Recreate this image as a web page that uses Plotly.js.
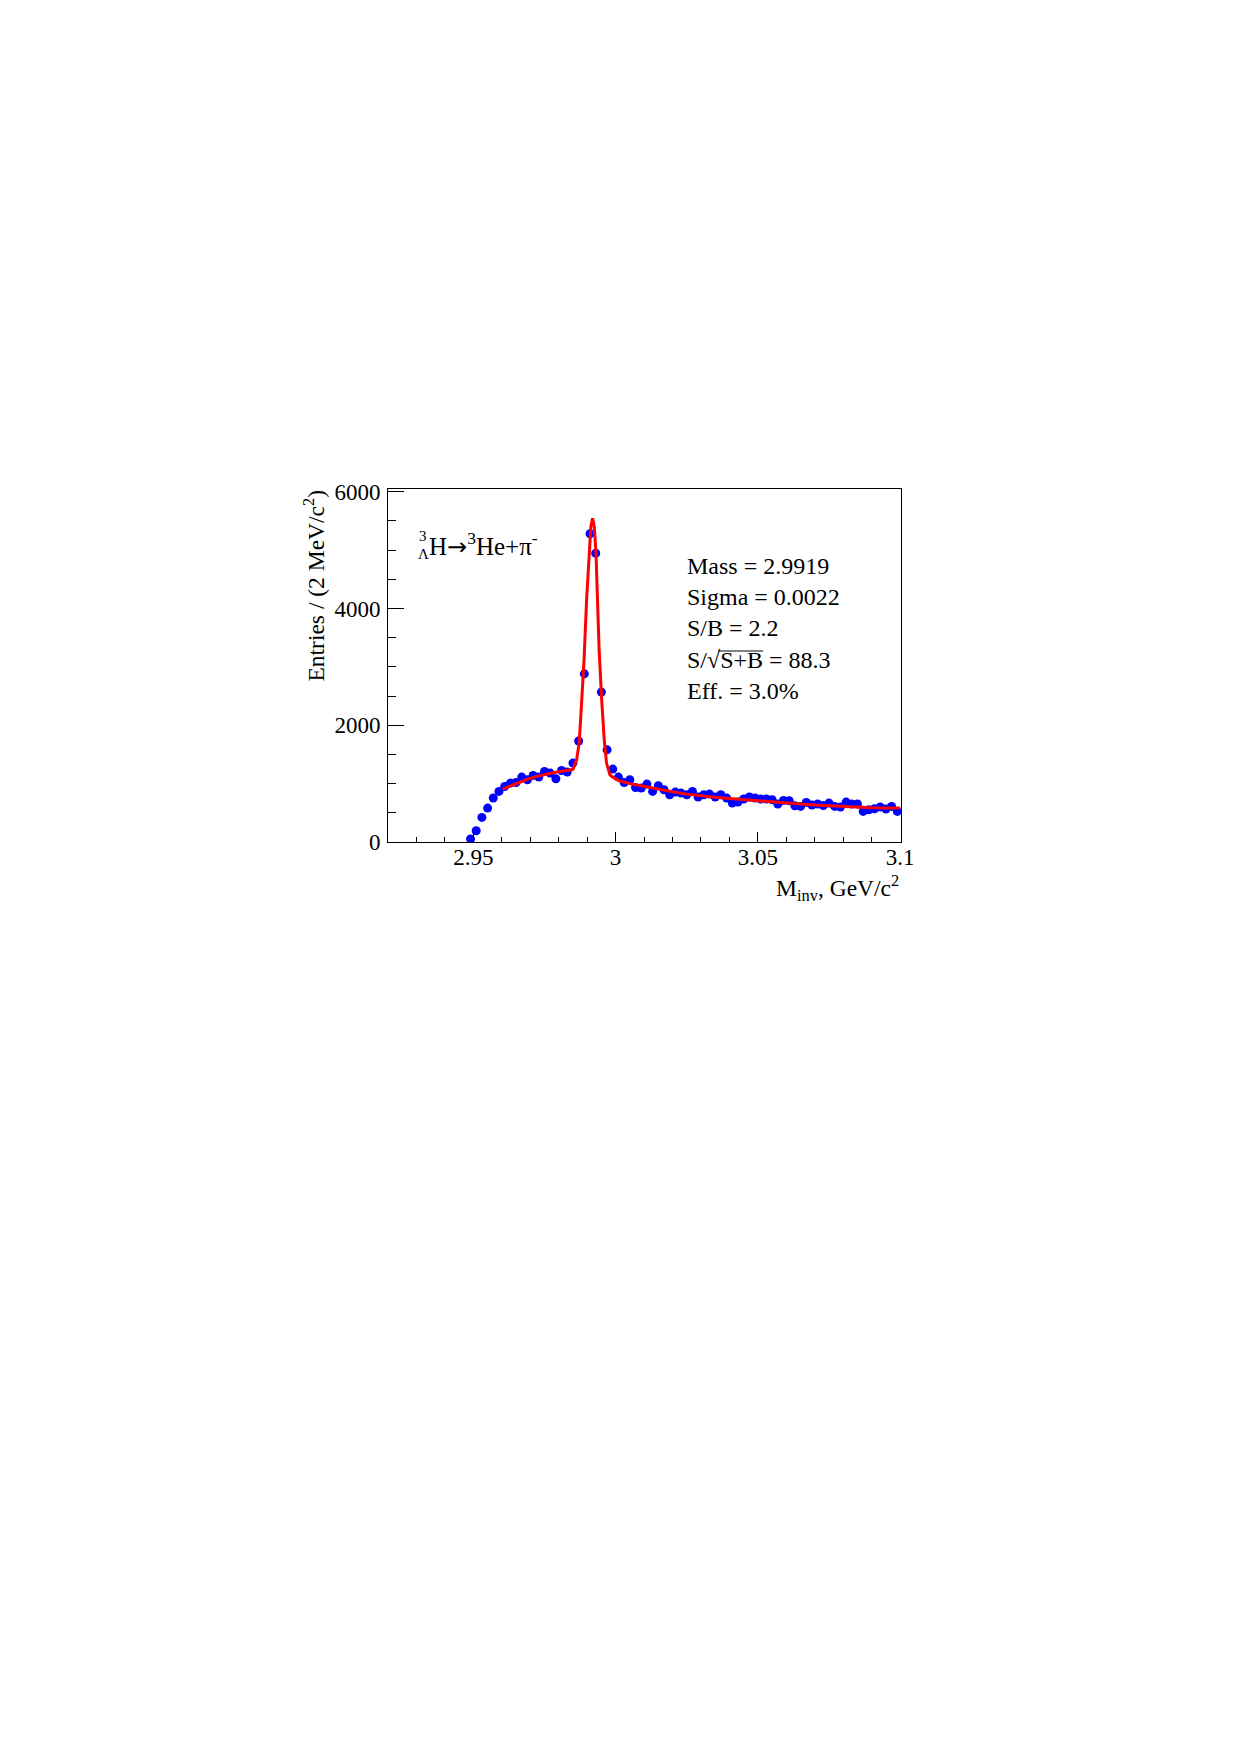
<!DOCTYPE html>
<html>
<head>
<meta charset="utf-8">
<script src="https://cdn.plot.ly/plotly-3.0.1.min.js"></script>
<style>html,body{margin:0;padding:0;background:#fff;}</style>
</head>
<body>
<div id="chart" style="width:1241px;height:1754px;"></div>
<script>
// Histogram bin centres (GeV/c^2) and entries per 2 MeV/c^2
const massBins = [2.949, 2.951, 2.953, 2.955, 2.957, 2.959, 2.961, 2.963, 2.965, 2.967,
  2.969, 2.971, 2.973, 2.975, 2.977, 2.979, 2.981, 2.983, 2.985, 2.987,
  2.989, 2.991, 2.993, 2.995, 2.997, 2.999, 3.001, 3.003, 3.005, 3.007,
  3.009, 3.011, 3.013, 3.015, 3.017, 3.019, 3.021, 3.023, 3.025, 3.027,
  3.029, 3.031, 3.033, 3.035, 3.037, 3.039, 3.041, 3.043, 3.045, 3.047,
  3.049, 3.051, 3.053, 3.055, 3.057, 3.059, 3.061, 3.063, 3.065, 3.067,
  3.069, 3.071, 3.073, 3.075, 3.077, 3.079, 3.081, 3.083, 3.085, 3.087,
  3.089, 3.091, 3.093, 3.095, 3.097, 3.099];
const entries = [51, 193, 421, 581, 753, 866, 951, 1009, 1020, 1112,
  1066, 1140, 1112, 1208, 1180, 1083, 1225, 1197, 1352, 1730,
  2880, 5280, 4945, 2567, 1579, 1249, 1112, 1020, 1066, 934,
  924, 992, 866, 963, 895, 809, 855, 838, 809, 866,
  770, 809, 821, 770, 809, 753, 667, 684, 736, 770,
  753, 736, 736, 724, 650, 712, 707, 621, 609, 678,
  633, 650, 626, 667, 609, 599, 684, 650, 650, 524,
  553, 570, 599, 565, 609, 524];

// Fit curve
const fitMass = [2.9603, 2.963, 2.966, 2.969, 2.972, 2.975, 2.978, 2.981, 2.983, 2.985,
  2.9863, 2.9872, 2.9881, 2.9889, 2.9898, 2.9907, 2.9913, 2.9919, 2.9925, 2.9931,
  2.9936, 2.9942, 2.9951, 2.996, 2.9968, 2.998, 2.999, 3.0, 3.0015, 3.005,
  3.01, 3.015, 3.02, 3.025, 3.03, 3.035, 3.04, 3.045, 3.05, 3.055,
  3.06, 3.065, 3.07, 3.075, 3.08, 3.085, 3.09, 3.095, 3.1];
const fitEntries = [907, 960, 1020, 1075, 1120, 1155, 1185, 1210, 1222, 1245,
  1408, 1700, 2435, 3119, 4146, 5001, 5400, 5543, 5400, 4950,
  4146, 3290, 2435, 1750, 1352, 1151, 1110, 1085, 1045, 1000,
  951, 905, 860, 820, 790, 765, 745, 724, 705, 688,
  670, 650, 632, 618, 605, 595, 588, 584, 582];

const xTickVals = [2.95, 3.0, 3.05, 3.1];
const xTickText = ['2.95', '3', '3.05', '3.1'];
const yTickVals = [0, 2000, 4000, 6000];
const yTickText = ['0', '2000', '4000', '6000'];

const statsLines = ['Mass = 2.9919', 'Sigma = 0.0022', 'S/B = 2.2', 'S/\u221AS+B = 88.3', 'Eff. = 3.0%'];

const serif = 'Liberation Serif, Times New Roman, serif';

const traces = [
  {
    x: massBins, y: entries, type: 'scatter', mode: 'markers',
    marker: {color: '#0000ff', size: 9, line: {width: 0}},
    hoverinfo: 'x+y'
  },
  {
    x: fitMass, y: fitEntries, type: 'scatter', mode: 'lines',
    line: {color: '#ff0000', width: 3, shape: 'linear'},
    hoverinfo: 'x+y'
  }
];

const layout = {
  width: 1241, height: 1754,
  margin: {l: 388, r: 340, t: 489, b: 912, pad: 0},
  paper_bgcolor: '#ffffff', plot_bgcolor: '#ffffff',
  showlegend: false,
  font: {family: serif, size: 23, color: '#000'},
  xaxis: {
    range: [2.92, 3.1003], showgrid: false, zeroline: false,
    showline: true, linecolor: '#000', linewidth: 1, mirror: true,
    ticks: 'inside', ticklen: 10, tickwidth: 1, tickcolor: '#000',
    tickvals: xTickVals, ticktext: xTickText,
    tickfont: {family: serif, size: 23},
    ticklabelstandoff: -6,
    minor: {ticks: 'inside', ticklen: 5, dtick: 0.01, tick0: 2.92, tickcolor: '#000', tickwidth: 1, showgrid: false}
  },
  yaxis: {
    range: [0, 6046], showgrid: false, zeroline: false,
    showline: true, linecolor: '#000', linewidth: 1, mirror: true,
    ticks: 'inside', ticklen: 16, tickwidth: 1, tickcolor: '#000',
    tickvals: yTickVals, ticktext: yTickText,
    tickfont: {family: serif, size: 23},
    ticklabelstandoff: 2,
    minor: {ticks: 'inside', ticklen: 8, dtick: 500, tick0: 0, tickcolor: '#000', tickwidth: 1, showgrid: false}
  },
  annotations: [
    {
      text: 'Entries / (2 MeV/c<sup>2</sup>)', textangle: -90,
      xref: 'paper', yref: 'paper', x: -0.145, y: 1.003,
      xanchor: 'center', yanchor: 'top', showarrow: false,
      font: {family: serif, size: 23.5}
    },
    {
      text: 'M<sub>inv</sub>, GeV/c<sup>2</sup>',
      xref: 'paper', yref: 'paper', x: 1.0, y: -0.13,
      xanchor: 'right', yanchor: 'middle', showarrow: false,
      font: {family: serif, size: 23.5}
    },
    {
      text: '3', xref: 'paper', yref: 'paper', x: 0.0687, y: 0.867,
      xanchor: 'center', yanchor: 'middle', showarrow: false,
      font: {family: serif, size: 15}
    },
    {
      text: '\u039B', xref: 'paper', yref: 'paper', x: 0.0687, y: 0.815,
      xanchor: 'center', yanchor: 'middle', showarrow: false,
      font: {family: serif, size: 15}
    },
    {
      text: 'H<span style="font-family:DejaVu Sans;font-size:24px">\u2192</span><sup>3</sup>He+\u03C0<sup>-</sup>',
      xref: 'paper', yref: 'paper', x: 0.0752, y: 0.843,
      xanchor: 'left', yanchor: 'middle', showarrow: false,
      font: {family: serif, size: 25}
    },
    {
      text: statsLines.join('<br>'),
      xref: 'paper', yref: 'paper', x: 0.579, y: 0.605,
      xanchor: 'left', yanchor: 'middle', align: 'left', showarrow: false,
      font: {family: serif, size: 24}
    }
  ]
};

Plotly.newPlot('chart', traces, layout, {staticPlot: true, displayModeBar: false}).then(function (gd) {
  // draw the overline of the square root above "S+B" in the stats block
  try {
    const svg = gd.querySelector('svg.main-svg:last-of-type') || gd.querySelector('svg.main-svg');
    const texts = gd.querySelectorAll('.annotation-text');
    let target = null;
    texts.forEach(function (t) {
      t.querySelectorAll('tspan.line').forEach(function (ln) {
        if (ln.textContent.indexOf('\u221AS+B') >= 0) target = ln;
      });
    });
    if (!target) return;
    const str = target.textContent;
    const i0 = str.indexOf('\u221A');
    const sBox = target.getExtentOfChar(i0);
    const eBox = target.getExtentOfChar(i0 + 3);
    const ctm = target.getScreenCTM();
    const root = svg.getScreenCTM().inverse();
    function tp(x, y) {
      const p = svg.createSVGPoint(); p.x = x; p.y = y;
      return p.matrixTransform(ctm).matrixTransform(root);
    }
    const yTop = sBox.y + sBox.height * 0.17;
    const a = tp(sBox.x + sBox.width * 0.85, yTop);
    const b = tp(eBox.x + eBox.width, yTop);
    const ns = 'http://www.w3.org/2000/svg';
    const line = document.createElementNS(ns, 'line');
    line.setAttribute('x1', a.x); line.setAttribute('y1', a.y);
    line.setAttribute('x2', b.x); line.setAttribute('y2', b.y);
    line.setAttribute('stroke', '#000'); line.setAttribute('stroke-width', '1.2');
    svg.appendChild(line);
  } catch (e) { console.log(e); }
});
</script>
</body>
</html>
